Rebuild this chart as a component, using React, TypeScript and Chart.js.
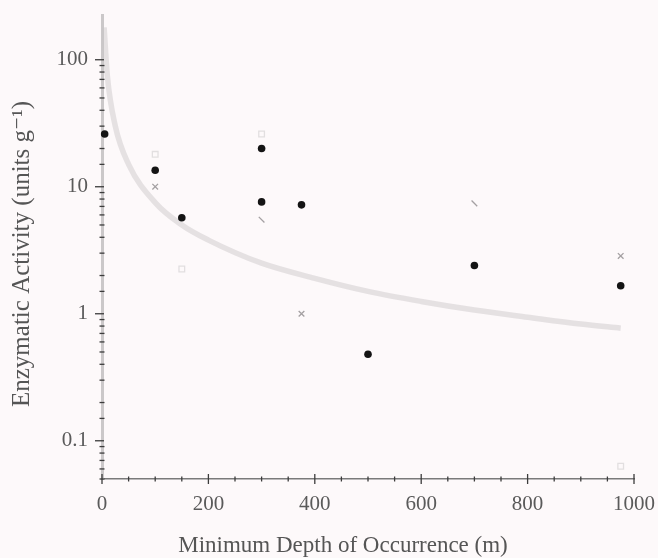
import React, { useEffect, useRef } from "react";
import { Chart, registerables } from "chart.js";

Chart.register(...registerables);

// Species means: minimum depth of occurrence (m) vs enzymatic activity (units per g)
const depthMean = [5, 100, 150, 300, 300, 375, 500, 700, 975];
const activityMean = [26, 13.5, 5.7, 20, 7.6, 7.2, 0.48, 2.4, 1.66];

// Secondary measurements (crosses)
const depthCross = [100, 300, 375, 700, 975];
const activityCross = [10, 5.5, 1.0, 7.4, 2.85];

// Faint squares
const depthSquare = [100, 150, 300, 975];
const activitySquare = [18, 2.25, 26, 0.063];

// Fitted trend line, read along its length
const depthFit = [4, 10, 25, 50, 100, 150, 200, 300, 400, 500, 600, 700, 800, 900, 975];
const activityFit = [180, 75, 30, 15, 7.5, 5.0, 3.8, 2.5, 1.9, 1.5, 1.25, 1.07, 0.94, 0.83, 0.77];

// Axis settings
const xTickStep = 50;
const xLabelStep = 200;
const yLabelValues = [0.1, 1, 10, 100];
const yMin = 0.05;
const yMax = 225;
const xTitle = "Minimum Depth of Occurrence (m)";
const yTitle = "Enzymatic Activity (units g⁻¹)";

const SERIF = "'Liberation Serif', 'DejaVu Serif', serif";

const toPoints = (xs: number[], ys: number[]) => xs.map((x, i) => ({ x, y: ys[i] }));

const isDecade = (v: number) => yLabelValues.some((d) => Math.abs(d - v) / d < 1e-6);

// Draws the small tick marks that cross each axis line, plus the axis titles
const axisDecor = {
  id: "axisDecor",
  afterDraw(chart: any) {
    const { ctx, chartArea } = chart;
    const xs = chart.scales.x;
    const ys = chart.scales.y;
    const ax = chartArea.left;
    const ay = chartArea.bottom;
    ctx.save();
    ctx.strokeStyle = "#3c3c3c";
    ctx.lineWidth = 1.3;
    ys.ticks.forEach((t: any) => {
      if (t.value > 100 + 1e-9) return;
      const py = ys.getPixelForValue(t.value);
      const major = isDecade(t.value);
      ctx.beginPath();
      ctx.moveTo(ax - (major ? 7 : 2.5), py);
      ctx.lineTo(ax + (major ? 2 : 2.5), py);
      ctx.stroke();
    });
    xs.ticks.forEach((t: any) => {
      const px = xs.getPixelForValue(t.value);
      const major = t.value % xLabelStep === 0;
      ctx.beginPath();
      ctx.moveTo(px, ay - (major ? 5 : 2.5));
      ctx.lineTo(px, ay + (major ? 5 : 2.5));
      ctx.stroke();
    });

    ctx.fillStyle = "#555";
    ctx.textAlign = "center";
    ctx.textBaseline = "middle";
    ctx.font = `23px ${SERIF}`;
    ctx.fillText(xTitle, 343, 546);

    ctx.translate(22, 254);
    ctx.rotate(-Math.PI / 2);
    ctx.font = `25px ${SERIF}`;
    ctx.fillText(yTitle, 0, 0);
    ctx.restore();
  },
};

export default function App() {
  const canvasRef = useRef<HTMLCanvasElement | null>(null);

  useEffect(() => {
    if (!canvasRef.current) return;
    const chart = new Chart(canvasRef.current, {
      type: "scatter",
      data: {
        datasets: [
          {
            label: "Mean activity",
            data: toPoints(depthMean, activityMean),
            pointStyle: "circle",
            pointRadius: 3.8,
            backgroundColor: "#141414",
            borderColor: "#141414",
            borderWidth: 0,
            clip: false,
          } as any,
          {
            label: "Crosses",
            data: toPoints(depthCross, activityCross),
            pointStyle: ["crossRot", "line", "crossRot", "line", "crossRot"],
            rotation: [0, 45, 0, 45, 0],
            pointRadius: 4,
            borderColor: "#a4a0a2",
            borderWidth: 1.3,
            backgroundColor: "transparent",
          } as any,
          {
            label: "Squares",
            data: toPoints(depthSquare, activitySquare),
            pointStyle: "rect",
            pointRadius: 4,
            borderColor: "#e2dfe0",
            borderWidth: 1.3,
            backgroundColor: "transparent",
          } as any,
          {
            label: "Fit",
            data: toPoints(depthFit, activityFit),
            showLine: true,
            pointRadius: 0,
            borderColor: "rgba(200,196,198,0.45)",
            borderWidth: 5.5,
            cubicInterpolationMode: "monotone",
            fill: false,
          } as any,
        ],
      },
      options: {
        responsive: false,
        animation: false,
        events: [],
        layout: { padding: { left: 0, right: 24, top: 15, bottom: 0 } },
        plugins: {
          legend: { display: false },
          tooltip: { enabled: false },
        },
        scales: {
          x: {
            type: "linear",
            min: 0,
            max: 1000,
            grid: { display: true, drawOnChartArea: false, drawTicks: false, color: "transparent" },
            border: { display: true, color: "#7a7a7a", width: 1.5 },
            ticks: {
              stepSize: xTickStep,
              autoSkip: false,
              maxRotation: 0,
              padding: 13,
              color: "#5a5a5a",
              font: { family: SERIF, size: 21 },
              callback: (v: any) => (Number(v) % xLabelStep === 0 ? String(v) : ""),
            },
            title: { display: false },
            afterFit: (s: any) => {
              s.height = 79;
              s.paddingLeft = 0;
              s.paddingRight = 0;
            },
          },
          y: {
            type: "logarithmic",
            min: yMin,
            max: yMax,
            grid: { display: true, drawOnChartArea: false, drawTicks: false, color: "transparent" },
            border: { display: true, color: "#cbc8c9", width: 3 },
            ticks: {
              autoSkip: false,
              padding: 14,
              color: "#5a5a5a",
              font: { family: SERIF, size: 21 },
              callback: (v: any) => (isDecade(Number(v)) ? String(Number(v)) : ""),
            },
            title: { display: false },
            afterFit: (s: any) => {
              s.width = 102;
              s.paddingTop = 0;
              s.paddingBottom = 0;
            },
          },
        },
      } as any,
      plugins: [axisDecor],
    });
    return () => chart.destroy();
  }, []);

  return (
    <div
      style={{
        position: "absolute",
        left: 0,
        top: 0,
        width: 658,
        height: 558,
        background: "#fdf9fa",
      }}
    >
      <canvas ref={canvasRef} width={658} height={558} />
    </div>
  );
}
